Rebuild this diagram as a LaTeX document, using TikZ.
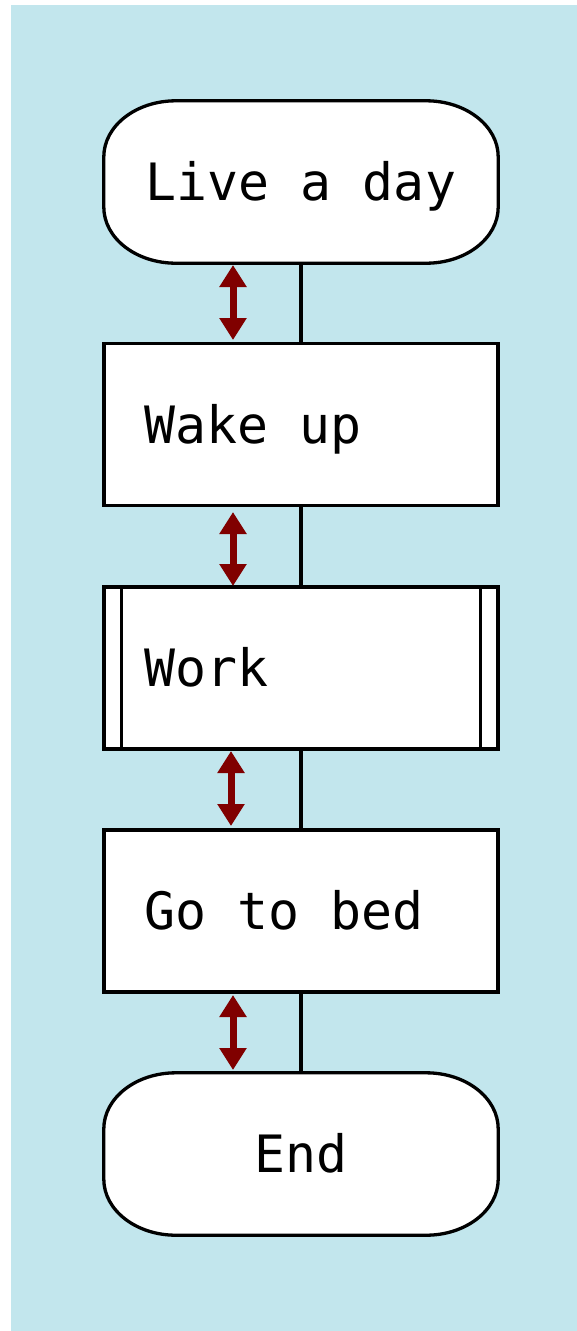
\documentclass[tikz,border=0pt]{standalone}
\usepackage{fontspec}
\setmonofont{DejaVu Sans Mono}
\usetikzlibrary{arrows.meta,backgrounds}
\definecolor{bgblue}{RGB}{194,230,237}
\definecolor{arrred}{RGB}{128,0,0}
\newcommand{\myboxfont}{\fontsize{51.5}{60}\selectfont\ttfamily\spaceskip=0.602em plus 0pt minus 0pt\xspaceskip=0.602em plus 0pt minus 0pt\relax}
\newcommand{\termoutline}[1]{%
  \filldraw[termline] ([xshift=72pt]#1.north west) -- ([xshift=-72pt]#1.north east)
    arc[start angle=90,end angle=0,x radius=72pt,y radius=56pt]
    -- ([yshift=56pt]#1.south east)
    arc[start angle=0,end angle=-90,x radius=72pt,y radius=56pt]
    -- ([xshift=72pt]#1.south west)
    arc[start angle=270,end angle=180,x radius=72pt,y radius=56pt]
    -- ([yshift=-56pt]#1.north west)
    arc[start angle=180,end angle=90,x radius=72pt,y radius=56pt] -- cycle;}
\begin{document}
\begin{tikzpicture}[x=1pt,y=-1pt,
  boxbase/.style={minimum width=394pt, minimum height=162pt,
    inner sep=0pt, font=\myboxfont, text height=37pt, text depth=0pt},
  box/.style={boxbase, draw=black, line width=3.3pt, fill=white},
  term/.style={boxbase, align=center},
  termline/.style={draw=black, fill=white, line width=3.3pt},
  proc/.style={box, text width=314pt, align=flush left},
  conn/.style={draw=black, line width=3.3pt},
  dbl/.style={arrred, line width=7pt, {Triangle[length=22pt,width=26pt]}-{Triangle[length=22pt,width=26pt]}}]
\useasboundingbox (0,0) rectangle (577,1331);
\node[term] (start) at (301,182) {Live a day};
\node[proc] (wake) at (301,424.5) {Wake up};
\node[proc] (work) at (301,668) {Work};
\node[proc] (bed) at (301,911) {Go to bed};
\node[term] (end) at (301,1154) {End};
\begin{pgfonlayer}{background}
\fill[bgblue] (11,5) rectangle (577,1331);
\termoutline{start}
\termoutline{end}
\end{pgfonlayer}
\draw[conn] ([xshift=19pt]work.north west) -- ([xshift=19pt]work.south west);
\draw[conn] ([xshift=-19pt]work.north east) -- ([xshift=-19pt]work.south east);
\draw[conn] (start) -- (wake);
\draw[conn] (wake) -- (work);
\draw[conn] (work) -- (bed);
\draw[conn] (bed) -- (end);
\coordinate (a1) at (233,265); \coordinate (b1) at (233,340);
\coordinate (a2) at (233,512); \coordinate (b2) at (233,586);
\coordinate (a3) at (231,751); \coordinate (b3) at (231,826);
\coordinate (a4) at (233,995); \coordinate (b4) at (233,1070);
\draw[dbl] (a1) -- (b1);
\draw[dbl] (a2) -- (b2);
\draw[dbl] (a3) -- (b3);
\draw[dbl] (a4) -- (b4);
\end{tikzpicture}
\end{document}
